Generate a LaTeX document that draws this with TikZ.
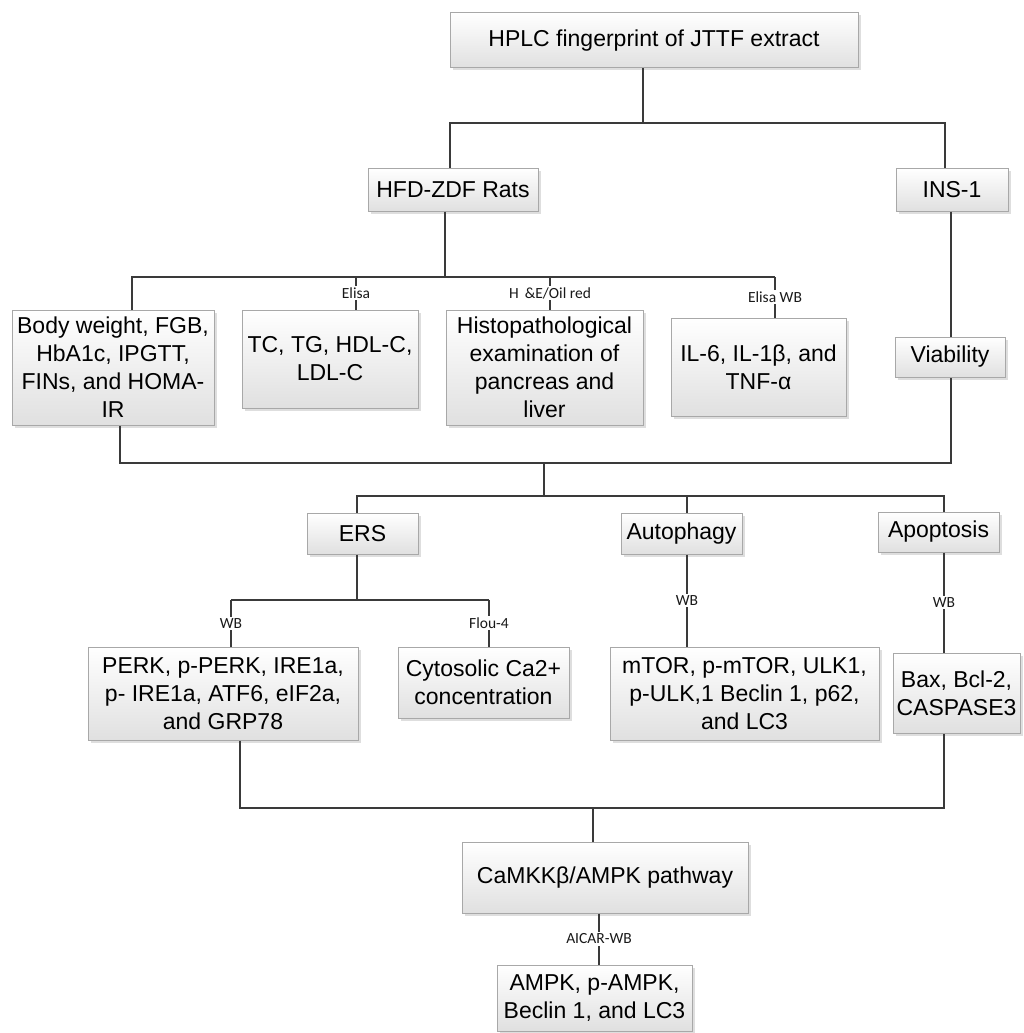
\documentclass[tikz,border=0pt]{standalone}
\usepackage{fontspec}
\setmainfont{Liberation Sans}
\newfontfamily\lblfont{Carlito}
\usetikzlibrary{shadows}
\definecolor{linec}{HTML}{3A3A3A}
\definecolor{boxedge}{HTML}{A8A8A8}
\definecolor{boxbot}{HTML}{E0E0E0}
\tikzset{
  box/.style={draw=boxedge, line width=1pt, top color=white, bottom color=boxbot,
    drop shadow={shadow xshift=2.5pt, shadow yshift=-2.5pt, fill=black!13, opacity=1},
    align=center, inner sep=1pt, font=\fontsize{23}{28}\selectfont, text=black},
  conn/.style={draw=linec, line width=2pt},
  lbl/.style={fill=white, inner sep=1.5pt, font=\lblfont\fontsize{15.5}{17}\selectfont, text=black!90},
}
\begin{document}
\begin{tikzpicture}[x=1pt,y=-1pt]
\useasboundingbox (0,0) rectangle (1023,1033);
% nodes
\node[box, minimum width=408pt, minimum height=55pt] (top) at (654,40.5) {HPLC fingerprint of JTTF extract};
\node[box, minimum width=170pt, minimum height=43pt] (hfd) at (453,189.5) {HFD-ZDF Rats};
\node[box, minimum width=112pt, minimum height=43pt] (ins) at (952,189.5) {INS-1};
\node[box, minimum width=202pt, minimum height=115pt] (body) at (113,367.5) {Body weight, FGB,\\HbA1c, IPGTT,\\FINs, and HOMA-\\IR};
\node[box, minimum width=176pt, minimum height=98pt] (tc) at (330,359) {TC, TG, HDL-C,\\LDL-C};
\node[box, minimum width=197pt, minimum height=115pt] (histo) at (544.5,367.5) {Histopathological\\examination of\\pancreas and\\liver};
\node[box, minimum width=175pt, minimum height=98pt] (il6) at (758.5,367) {IL-6, IL-1β, and\\TNF-α};
\node[box, minimum width=110pt, minimum height=40pt] (via) at (950,357) {Viability};
\node[box, minimum width=111pt, minimum height=41pt] (ers) at (362.5,533.5) {ERS};
\node[box, minimum width=121pt, minimum height=41pt] (auto) at (681.5,533.5) {Autophagy};
\node[box, minimum width=121pt, minimum height=40pt] (apo) at (938.5,532) {Apoptosis};
\node[box, minimum width=270pt, minimum height=93pt] (perk) at (223,693.5) {PERK, p-PERK, IRE1a,\\p- IRE1a, ATF6, eIF2a,\\and GRP78};
\node[box, minimum width=171pt, minimum height=71pt] (cyto) at (483.5,682.5) {Cytosolic Ca2+\\concentration};
\node[box, minimum width=269pt, minimum height=93pt] (mtor) at (744.5,693.5) {mTOR, p-mTOR, ULK1,\\p-ULK,1 Beclin 1, p62,\\and LC3};
\node[box, minimum width=127pt, minimum height=80pt] (bax) at (956.5,693) {Bax, Bcl-2,\\CASPASE3};
\node[box, minimum width=286pt, minimum height=71pt] (camkk) at (605,877.5) {CaMKKβ/AMPK pathway};
\node[box, minimum width=195pt, minimum height=66pt] (ampk) at (594.5,998) {AMPK, p-AMPK,\\Beclin 1, and LC3};
% junctions
\coordinate (j1) at (643,123);
\coordinate (j2) at (445,277);
\coordinate (r2) at (775,277);
\coordinate (j3a) at (544,463);
\coordinate (j3b) at (544,496);
\coordinate (j4) at (357,600);
\coordinate (j5) at (593,808);
\coordinate (vx) at (951,0);
\coordinate (tcT) at ([xshift=26pt]tc.north);
\coordinate (hiT) at ([xshift=5.5pt]histo.north);
\coordinate (ilT) at ([xshift=16.5pt]il6.north);
\coordinate (bodyT) at ([xshift=19pt]body.north);
\coordinate (bodyB) at ([xshift=7pt]body.south);
\coordinate (ersN) at ([xshift=-5.5pt]ers.north);
\coordinate (ersS) at ([xshift=-5.5pt]ers.south);
\coordinate (autoN) at ([xshift=5.5pt]auto.north);
\coordinate (apoN) at ([xshift=5.5pt]apo.north);
\coordinate (perkT) at ([xshift=8pt]perk.north);
\coordinate (cytoT) at ([xshift=5.5pt]cyto.north);
\coordinate (perkB) at ([xshift=17pt]perk.south);
\coordinate (baxB) at ([xshift=-12.5pt]bax.south);
% connectors
\draw[conn] (top.south -| j1) -- (j1);
\draw[conn] ([xshift=-3pt]hfd.north) |- (j1) -| ([xshift=-7pt]ins.north);
\draw[conn] ([xshift=-8pt]hfd.south) -- (j2);
\draw[conn] (bodyT) |- (r2);
\draw[conn] (tcT |- r2) -- node[lbl]{Elisa} (tcT);
\draw[conn] (hiT |- r2) -- node[lbl]{H \,\&E/Oil red} (hiT);
\draw[conn] (r2) -- node[lbl]{Elisa WB} (ilT);
\draw[conn] (ins.south -| vx) -- (via.north -| vx);
\draw[conn] (bodyB) |- (j3a) -| (via.south -| vx);
\draw[conn] (j3a) -- (j3b);
\draw[conn] (ersN) |- (j3b) -| (apoN);
\draw[conn] (autoN |- j3b) -- (autoN);
\draw[conn] (ersS) -- (j4);
\draw[conn] (perkT |- j4) -- (cytoT |- j4);
\draw[conn] (perkT |- j4) -- node[lbl]{WB} (perkT);
\draw[conn] (cytoT |- j4) -- node[lbl]{Flou-4} (cytoT);
\draw[conn] ([xshift=5.5pt]auto.south) -- node[lbl]{WB} ([xshift=-57.5pt]mtor.north);
\draw[conn] ([xshift=5.5pt]apo.south) -- node[lbl]{WB} ([xshift=-12.5pt]bax.north);
\draw[conn] (perkB) |- (j5) -| (baxB);
\draw[conn] (j5) -- (camkk.north -| j5);
\draw[conn] ([xshift=-6pt]camkk.south) -- node[lbl]{AICAR-WB} ([xshift=4.5pt]ampk.north);
\end{tikzpicture}
\end{document}
